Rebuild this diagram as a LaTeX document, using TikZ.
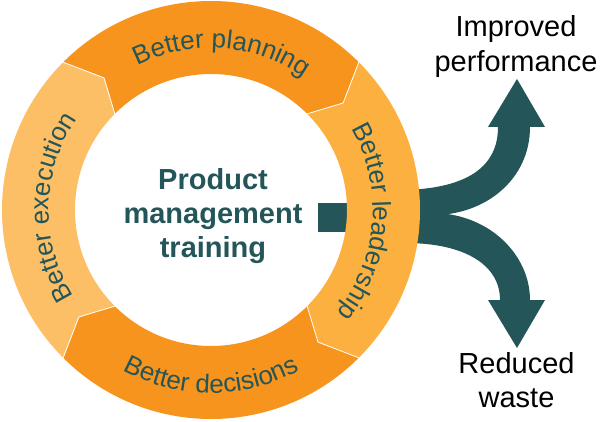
\documentclass[tikz,border=0pt]{standalone}
\usepackage{fontspec}
\setmainfont{Liberation Sans}
\usetikzlibrary{decorations.text}
\definecolor{darkor}{HTML}{F7941D}
\definecolor{lightor}{HTML}{FBB040}
\definecolor{paleor}{HTML}{FDBF66}
\definecolor{tealc}{HTML}{245559}
\begin{document}
\begin{tikzpicture}[x=1pt,y=1pt,
  sep/.style={draw=white, line width=0.8pt, line join=miter},
  ringtext/.style={decorate, decoration={text along path, text align=center, text color=tealc, text={|\fontsize{26}{30}\selectfont|#1}}},
  ctext/.style={font=\fontsize{29}{34}\selectfont\bfseries, text=tealc, inner sep=0pt, anchor=base},
  otext/.style={font=\fontsize{29}{34}\selectfont, text=black, inner sep=0pt, anchor=base}
]
\useasboundingbox (0,0) rectangle (600,421);

% teal split arrow (behind the ring)
\fill[tealc] (318,189) rectangle (425,218);
\fill[tealc] (405,231) .. controls (470,233) and (498,256) .. (498,294)
  -- (488,294) -- (517,342) -- (545,294) -- (530,294)
  .. controls (530,241) and (485,207) .. (436,206) -- (405,206) -- cycle;
\fill[tealc] (405,208) -- (436,208) .. controls (490,206) and (530,166) .. (530,121)
  -- (545,121) -- (517,73) -- (488,121) -- (500,121)
  .. controls (500,156) and (465,178) .. (405,178) -- cycle;

% ring
\begin{scope}[shift={(211,211)}]
  \fill[darkor] (135:209) arc[start angle=135,end angle=45,radius=209] -- (39:170) -- (45:136)
    arc[start angle=45,end angle=135,radius=136] -- (129:170) -- cycle;
  \fill[lightor] (45:209) arc[start angle=45,end angle=-45,radius=209] -- (-51:170) -- (-45:136)
    arc[start angle=-45,end angle=45,radius=136] -- (39:170) -- cycle;
  \fill[darkor] (-45:209) arc[start angle=-45,end angle=-135,radius=209] -- (-141:170) -- (-135:136)
    arc[start angle=-135,end angle=-45,radius=136] -- (-51:170) -- cycle;
  \fill[paleor] (225:209) arc[start angle=225,end angle=135,radius=209] -- (129:170) -- (135:136)
    arc[start angle=135,end angle=225,radius=136] -- (219:170) -- cycle;
  \draw[sep] (135:209) -- (129:170) -- (135:136);
  \draw[sep] (45:209) -- (39:170) -- (45:136);
  \draw[sep] (-45:209) -- (-51:170) -- (-45:136);
  \draw[sep] (-135:209) -- (-141:170) -- (-135:136);

  \path[ringtext={Better planning}] (131:162) arc[start angle=131,end angle=41,radius=162];
  \path[ringtext={Better leadership}] (40.5:162) arc[start angle=40.5,end angle=-49.5,radius=162];
  \path[ringtext={Better decisions}] (-135:183) arc[start angle=-135,end angle=-45,radius=183];
  \path[ringtext={Better execution}] (224:162) arc[start angle=224,end angle=134,radius=162];
\end{scope}

% centre text
\node[ctext] (prod) at (213,231) {Product};
\node[ctext] (mgmt) at (213,197) {management};
\node[ctext] (trn) at (213,164) {training};

% outcomes
\node[otext] (imp) at (516,384) {Improved};
\node[otext] (perf) at (516,349) {performance};
\node[otext] (red) at (516.5,48) {Reduced};
\node[otext] (wst) at (516.5,14) {waste};
\end{tikzpicture}
\end{document}
